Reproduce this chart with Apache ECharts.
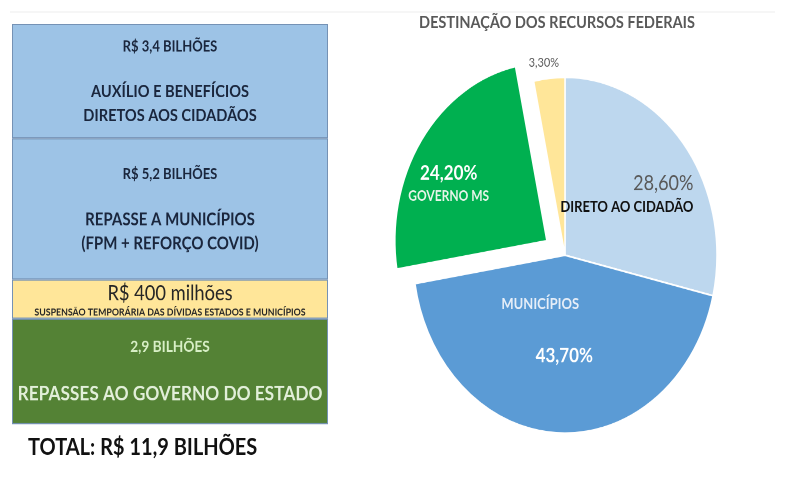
<!DOCTYPE html>
<html>
<head>
<meta charset="utf-8">
<script src="https://cdn.jsdelivr.net/npm/echarts@6/dist/echarts.min.js"></script>
<style>
html,body{margin:0;padding:0;background:#fff;width:800px;height:480px;overflow:hidden;}
#wrap{width:800px;height:480px;position:relative;overflow:hidden;}
#c{position:absolute;left:0;top:0;width:800px;height:410px;transform:scaleY(1.1707);transform-origin:0 0;}
</style>
</head>
<body>
<div id="wrap"><div id="c"></div></div>
<script>
// ---- data ----
const blockNames = ['Repasses ao Governo do Estado', 'Suspensão temporária das dívidas', 'Repasse a municípios', 'Auxílio e benefícios diretos'];
const blockValues = [2.9, 0.4, 5.2, 3.4]; // R$ bilhões, bottom to top
const blockValueLabels = ['2,9 BILHÕES', 'R$ 400 milhões', 'R$ 5,2 BILHÕES', 'R$ 3,4 BILHÕES'];
const blockDescriptions = [
  ['REPASSES AO GOVERNO DO ESTADO'],
  ['SUSPENSÃO TEMPORÁRIA DAS DÍVIDAS ESTADOS E MUNICÍPIOS'],
  ['REPASSE A MUNICÍPIOS', '(FPM + REFORÇO COVID)'],
  ['AUXÍLIO E BENEFÍCIOS', 'DIRETOS AOS CIDADÃOS']
];
const totalLabel = 'TOTAL: R$ 11,9 BILHÕES';

const pieTitle = 'DESTINAÇÃO DOS RECURSOS FEDERAIS';
const pieNames = ['DIRETO AO CIDADÃO', 'MUNICÍPIOS', 'GOVERNO MS', 'SUSPENSÃO DAS DÍVIDAS'];
const pieValues = [28.6, 43.7, 24.2, 3.3];
const pieLabels = ['28,60%', '43,70%', '24,20%', '3,30%'];

// ---- styles ----
const FONT = 'Lato, "Noto Sans", sans-serif';
const blockColors = ['#548235', '#ffe699', '#9dc3e6', '#9dc3e6'];
const pieColors = ['#bdd7ee', '#5b9bd5', '#00b050', '#ffe699'];
const pieLabelShift = [[0, -3], [2, -14], [-33, -4], [-13, -86]];

// the source boxes are drawn with heights ~ proportional to sqrt(value)
const blockHeights = blockValues.map(v => Math.sqrt(v));
const blockMax = blockHeights.reduce((a, b) => a + b, 0);

const blockRich = [
  { v: {fontFamily: FONT, fontWeight: 'bold', fontSize: 13.7, color: '#d8efc6', lineHeight: 20},
    g: {fontSize: 2, lineHeight: 18},
    d: {fontFamily: FONT, fontWeight: 'bold', fontSize: 17.3, color: '#e2efd9', lineHeight: 24} },
  { v: {fontFamily: FONT, fontSize: 18.3, color: '#262626', lineHeight: 22},
    g: {fontSize: 2, lineHeight: 0},
    d: {fontFamily: FONT, fontWeight: 'bold', fontSize: 8.8, color: '#262626', lineHeight: 10} },
  { v: {fontFamily: FONT, fontWeight: 'bold', fontSize: 13, color: '#1a263d', lineHeight: 20.5},
    g: {fontSize: 2, lineHeight: 18},
    d: {fontFamily: FONT, fontWeight: 'bold', fontSize: 15, color: '#1a263d', lineHeight: 20.5} },
  { v: {fontFamily: FONT, fontWeight: 'bold', fontSize: 13, color: '#1a263d', lineHeight: 20.5},
    g: {fontSize: 2, lineHeight: 18},
    d: {fontFamily: FONT, fontWeight: 'bold', fontSize: 14.6, color: '#1a263d', lineHeight: 20.5} }
];

const barSeries = blockValues.map((v, i) => ({
  type: 'bar',
  name: blockNames[i],
  stack: 'total',
  barWidth: '100%',
  data: [blockHeights[i]],
  itemStyle: {color: blockColors[i], borderColor: '#7592b5', borderWidth: 1},
  label: {
    show: true,
    position: 'inside',
    formatter: () => {
      const gap = i === 1 ? '' : '{g| }\n';
      return '{v|' + blockValueLabels[i] + '}\n' + gap +
        blockDescriptions[i].map(t => '{d|' + t + '}').join('\n');
    },
    rich: blockRich[i]
  },
  emphasis: {disabled: true},
  silent: true
}));

const pieRich = {
  pg: {fontFamily: FONT, fontSize: 18, color: '#595959', lineHeight: 22, align: 'right'},
  nb: {fontFamily: FONT, fontWeight: 'bold', fontSize: 13, color: '#111111', lineHeight: 18, align: 'right'},
  pw: {fontFamily: FONT, fontWeight: 'bold', fontSize: 17, color: '#ffffff', lineHeight: 22},
  nw: {fontFamily: FONT, fontWeight: 'bold', fontSize: 12, color: '#e8f5ea', lineHeight: 18},
  nm: {fontFamily: FONT, fontWeight: 'bold', fontSize: 13, color: '#e6eef8', lineHeight: 18, padding: [0, 48, 0, 0]},
  g: {fontSize: 2, lineHeight: 24},
  ps: {fontFamily: FONT, fontSize: 11, color: '#595959', lineHeight: 14}
};
const pieFormat = [
  i => '{pg|' + pieLabels[i] + '}\n{nb|' + pieNames[i] + '}',
  i => '{nm|' + pieNames[i] + '}\n{g| }\n{pw|' + pieLabels[i] + '}',
  i => '{pw|' + pieLabels[i] + '}\n{nw|' + pieNames[i] + '}',
  i => '{ps|' + pieLabels[i] + '}'
];

const chart = echarts.init(document.getElementById('c'), null, {devicePixelRatio: 2});
chart.setOption({
  animation: false,
  title: [
    {text: pieTitle, left: 557, top: 12, textAlign: 'center', padding: 0,
     textStyle: {fontFamily: FONT, fontWeight: 'bold', fontSize: 14.5, color: '#595959'}},
    {text: totalLabel, left: 28, top: 372, padding: 0,
     textStyle: {fontFamily: FONT, fontWeight: 'bold', fontSize: 20, color: '#111111'}}
  ],
  graphic: [
    {type: 'line', shape: {x1: 10, y1: 10.3, x2: 775, y2: 10.3}, style: {stroke: '#efefef', lineWidth: 1}, silent: true}
  ],
  grid: {left: 12, right: 472, top: 20.5, bottom: 47.6},
  xAxis: {type: 'category', data: ['Total'], show: false},
  yAxis: {type: 'value', min: 0, max: blockMax, show: false},
  series: barSeries.concat([{
    type: 'pie',
    center: [565, 218],
    radius: 152,
    startAngle: 90,
    clockwise: true,
    selectedMode: 'multiple',
    selectedOffset: 22,
    avoidLabelOverlap: false,
    itemStyle: {borderColor: '#ffffff', borderWidth: 1.5},
    label: {show: true, position: 'inside'},
    labelLine: {show: false},
    emphasis: {disabled: true},
    labelLayout: p => ({dx: pieLabelShift[p.dataIndex][0], dy: pieLabelShift[p.dataIndex][1]}),
    data: pieValues.map((v, i) => ({
      name: pieNames[i],
      value: v,
      selected: i === 2,
      itemStyle: {color: pieColors[i]},
      label: {formatter: () => pieFormat[i](i), rich: pieRich}
    }))
  }])
});
</script>
</body>
</html>
